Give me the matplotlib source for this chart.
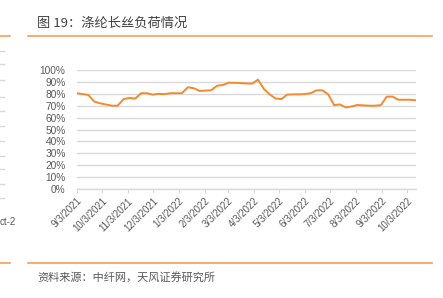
import matplotlib
matplotlib.use("Agg")
import matplotlib.pyplot as plt
import matplotlib.dates as mdates
import numpy as np
import datetime as dt

plt.rcParams['font.family'] = ['Liberation Sans', 'Noto Sans CJK SC', 'DejaVu Sans']

title = "图 19：涤纶长丝负荷情况"
source = "资料来源：中纤网，天风证券研究所"

start_date = dt.date(2021, 9, 3)
load_pct = [80.5, 79.8, 79.0, 73.5, 72.0, 71.0, 70.0, 70.0, 75.5, 76.5,
            76.0, 80.5, 80.5, 79.3, 80.0, 79.7, 80.5, 80.5, 80.5, 85.5,
            84.7, 82.4, 82.7, 83.0, 86.8, 87.4, 89.3, 89.2, 89.0, 88.7,
            88.5, 91.9, 84.0, 79.5, 76.0, 75.6, 79.3, 79.5, 79.5, 79.8,
            80.5, 82.9, 82.9, 79.5, 70.5, 71.1, 68.5, 69.4, 70.6, 70.3,
            70.0, 70.0, 70.5, 77.6, 77.6, 75.0, 75.0, 75.0, 74.5]
dates = [start_date + dt.timedelta(days=7 * i) for i in range(len(load_pct))]

tick_dates = [dt.date(2021, m, 3) for m in range(9, 13)] + [dt.date(2022, m, 3) for m in range(1, 11)]
tick_labels = [f"{d.month}/{d.day}/{d.year}" for d in tick_dates]
y_ticks = list(range(0, 101, 10))
y_labels = [f"{v}%" for v in y_ticks]

W, H = 443, 298
fig = plt.figure(figsize=(W / 100, H / 100), dpi=100)

orange_rule = "#F4A05A"
gray_txt = "#595959"
grid_c = "#D9D9D9"

ax = fig.add_axes([76.7 / W, (H - 189) / H, (416 - 76.7) / W, (189 - 70) / H])
ax.plot(dates, load_pct, color="#F58A2C", lw=1.4, solid_joinstyle="round")
ax.set_xlim(dates[0], dates[-1])
ax.set_ylim(0, 100)
ax.set_yticks(y_ticks)
ax.set_yticklabels(y_labels)
ax.set_xticks(tick_dates)
ax.set_xticklabels(tick_labels, rotation=45, ha="right", rotation_mode="anchor")
ax.tick_params(axis="y", length=0, pad=8, labelsize=7.3, labelcolor=gray_txt)
ax.tick_params(axis="x", length=3, width=0.8, color=grid_c, pad=2, labelsize=7, labelcolor=gray_txt)
ax.grid(axis="y", color=grid_c, lw=1)
ax.set_axisbelow(True)
for s in ["top", "right", "left"]:
    ax.spines[s].set_visible(False)
ax.spines["bottom"].set_color(grid_c)
ax.spines["bottom"].set_linewidth(1)

# title, rules and source
fig.text(37 / W, 1 - 23 / H, title, family=["Noto Sans CJK SC", "DejaVu Sans"],
         fontsize=9.5, color="#404040", va="center", ha="left")
fig.add_artist(plt.Line2D([28 / W, 432 / W], [1 - 36 / H, 1 - 36 / H], color=orange_rule, lw=1.2))
fig.add_artist(plt.Line2D([28 / W, 432 / W], [1 - 263 / H, 1 - 263 / H], color=orange_rule, lw=1.2))
fig.text(37 / W, 1 - 277 / H, source, family=["Noto Sans CJK SC", "DejaVu Sans"],
         fontsize=8, color=gray_txt, va="center", ha="left")

# fragment of neighbouring chart at left edge
fig.add_artist(plt.Line2D([0, 10 / W], [1 - 36 / H, 1 - 36 / H], color=orange_rule, lw=1.2))
fig.add_artist(plt.Line2D([0, 10 / W], [1 - 263 / H, 1 - 263 / H], color=orange_rule, lw=1.2))
for yy in [51, 64, 80, 97, 111, 126, 141, 156, 169, 184, 198]:
    fig.add_artist(plt.Line2D([0, 4 / W], [1 - yy / H, 1 - yy / H], color=grid_c, lw=1))
fig.text(0, 1 - 222 / H, "ct-2", fontsize=7, color=gray_txt, va="center", ha="left")

fig.savefig("out.png", dpi=100)
